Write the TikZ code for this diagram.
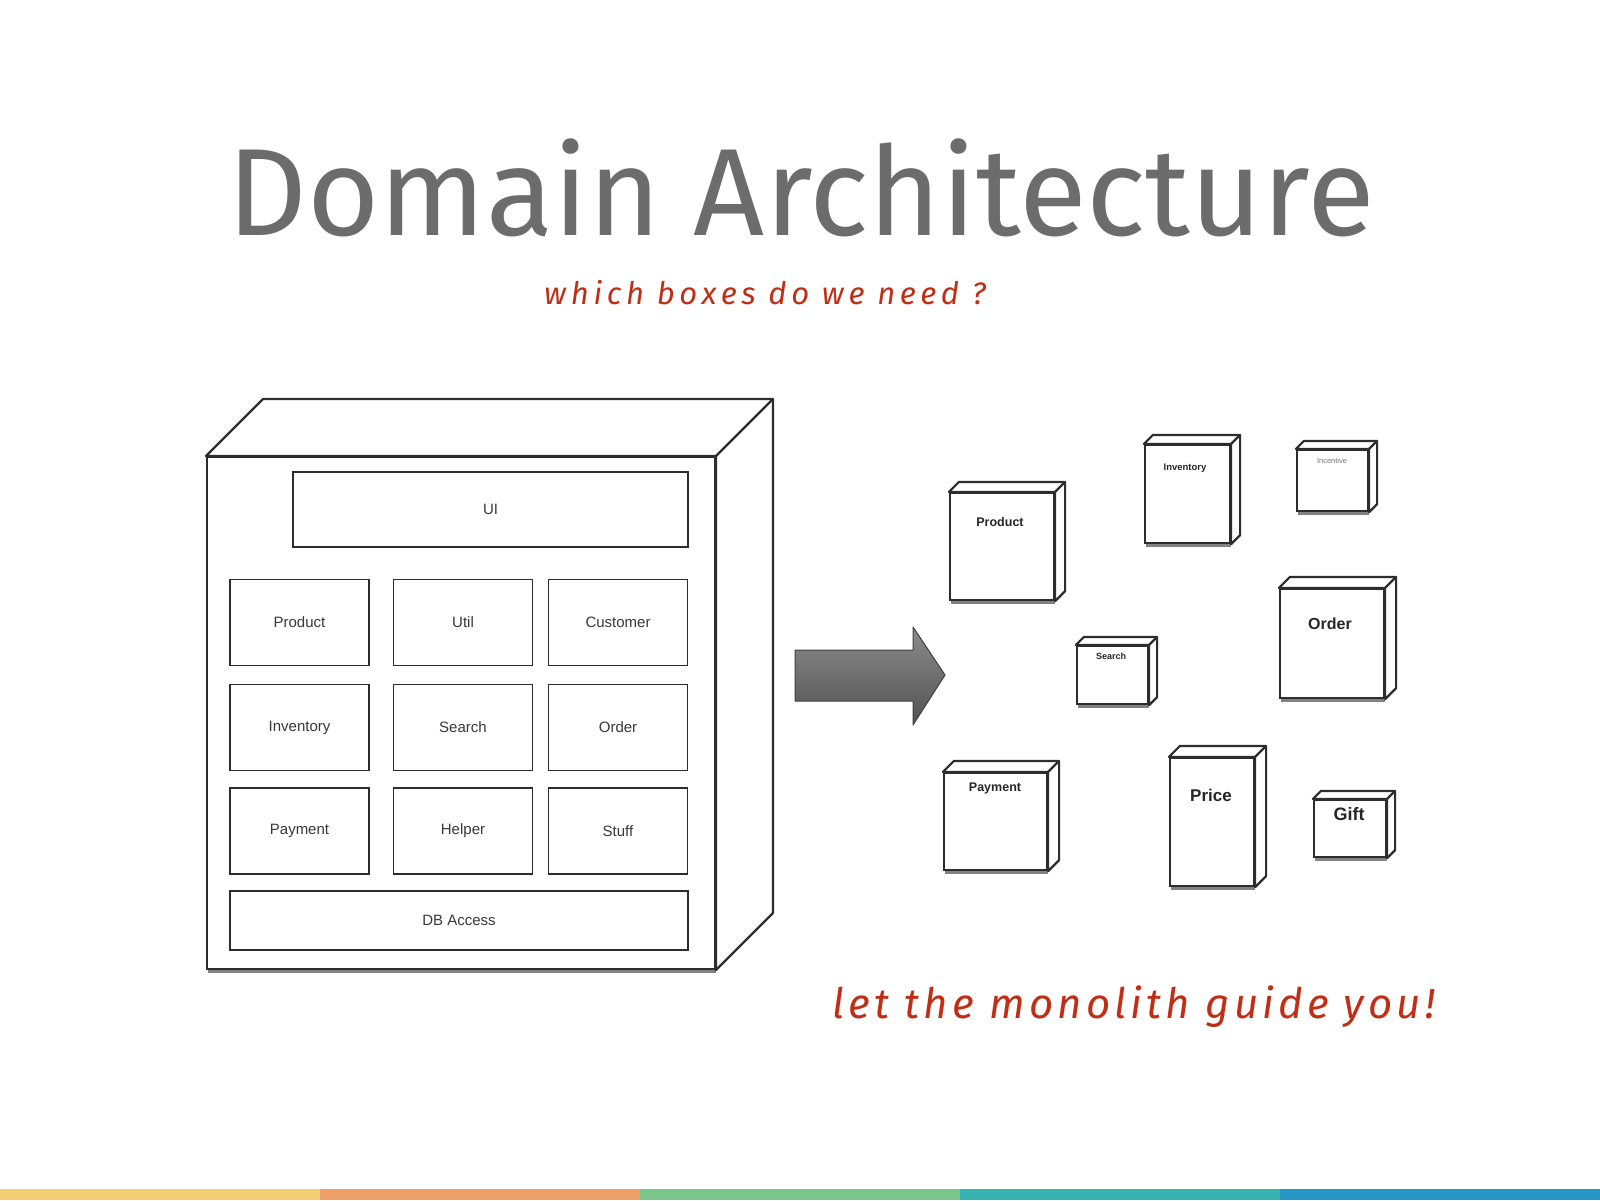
\documentclass[tikz,border=0pt]{standalone}
\usepackage{fontspec}
\setmainfont{Liberation Sans}
\newfontfamily\titlefont{Fira Sans}
\newfontfamily\notefont[LetterSpace=15]{Fira Sans}
\newfontfamily\hintfont[LetterSpace=10]{Fira Sans}
\usetikzlibrary{shadows}

\definecolor{titlegray}{RGB}{108,108,108}
\definecolor{notered}{RGB}{192,46,22}
\definecolor{boxline}{RGB}{45,45,45}
\definecolor{barA}{RGB}{245,206,116}
\definecolor{barB}{RGB}{239,160,102}
\definecolor{barC}{RGB}{123,198,141}
\definecolor{barD}{RGB}{54,181,176}
\definecolor{barE}{RGB}{38,151,198}

\tikzset{
  modbox/.style={draw=boxline, line width=1.7pt, fill=white, minimum width=139pt,
    minimum height=86pt, font=\fontsize{15}{15}\selectfont, text=black!78},
  svcbox/.style={draw=boxline, line width=2.2pt, fill=white,
    drop shadow={shadow xshift=1pt, shadow yshift=-4pt, opacity=0.65, fill=black!75}},
  svclabel/.style={font=\bfseries, text=black!85, inner sep=0pt},
  facefill/.style={draw=boxline, line width=2.2pt, fill=white, line join=round},
}

% top and right faces of a box node #1, depth #2
\newcommand{\cubefaces}[2]{%
  \draw[facefill] (#1.north west) -- ++(#2,-#2) -- ([shift={(#2,-#2)}]#1.north east)
    -- ([shift={(#2,-#2)}]#1.south east) -- (#1.south east) -- (#1.north east) -- cycle;
  \draw[facefill] (#1.north east) -- ++(#2,-#2);
}

\begin{document}
\begin{tikzpicture}[x=1pt, y=-1pt]
    % page
    \useasboundingbox (0,0) rectangle (1600,1200);
    \fill[white] (0,0) rectangle (1600,1200);

    % title and notes
    \node[anchor=base, text=titlegray, font=\titlefont\fontsize{124}{124}\selectfont] (title) at (801,235) {Domain Architecture};
    \node[anchor=base, text=notered, font=\notefont\itshape\fontsize{31}{31}\selectfont] (question) at (765,304) {which boxes do we need ?};
    \node[anchor=base, text=notered, font=\hintfont\itshape\fontsize{42}{42}\selectfont] (hint) at (1134,1018) {let the monolith guide you!};

    % the monolith
    \node[draw=boxline, line width=2pt, fill=white, minimum width=508pt, minimum height=512pt,
          drop shadow={shadow xshift=1pt, shadow yshift=-4pt, opacity=0.65, fill=black!75}] (mono) at (461,713) {};
    \cubefaces{mono}{57}

    % modules inside the monolith
    \node[modbox, minimum width=395pt, minimum height=75pt] (ui) at (490.5,509.5) {UI};
    \node[modbox] (product) at (299.5,622.5) {Product};
    \node[modbox] (util) at (463,622.5) {Util};
    \node[modbox] (customer) at (618,622.5) {Customer};
    \node[modbox] (inventory) at (299.5,727.5) {Inventory};
    \node[modbox] (search) at (463,727.5) {Search};
    \node[modbox] (order) at (618,727.5) {Order};
    \node[modbox] (payment) at (299.5,831) {Payment};
    \node[modbox] (helper) at (463,831) {Helper};
    \node[modbox] (stuff) at (618,831) {Stuff};
    \node[modbox, minimum width=458pt, minimum height=59pt] (db) at (459,920.5) {DB Access};

    % big arrow
    \shade[top color=black!45, middle color=black!38, bottom color=black!68, draw=black!75, line width=1pt, line join=round]
        (795,650) -- (913,650) -- (913,627) -- (945,675) -- (913,725) -- (913,701) -- (795,701) -- cycle;

    % the separate services
    \node[svcbox, minimum width=104pt, minimum height=107pt] (sproduct) at (1002,546.5) {};
    \cubefaces{sproduct}{10}
    \node[svclabel, font=\bfseries\fontsize{12.5}{12.5}\selectfont] (lproduct) at (1000,522) {Product};

    \node[svcbox, minimum width=85pt, minimum height=98pt] (sinventory) at (1187.5,494) {};
    \cubefaces{sinventory}{9}
    \node[svclabel, font=\bfseries\fontsize{9.5}{9.5}\selectfont] (linventory) at (1185,468) {Inventory};

    \node[svcbox, minimum width=71pt, minimum height=61pt] (sincentive) at (1332.5,480.5) {};
    \cubefaces{sincentive}{8}
    \node[svclabel, font=\fontsize{7.5}{7.5}\selectfont, text=black!55] (lincentive) at (1332,461) {Incentive};

    \node[svcbox, minimum width=104pt, minimum height=109pt] (sorder) at (1332,643.5) {};
    \cubefaces{sorder}{11}
    \node[svclabel, font=\bfseries\fontsize{16}{16}\selectfont] (lorder) at (1330,624) {Order};

    \node[svcbox, minimum width=71pt, minimum height=58pt] (ssearch) at (1112.5,675) {};
    \cubefaces{ssearch}{8}
    \node[svclabel, font=\bfseries\fontsize{9}{9}\selectfont] (lsearch) at (1111,656) {Search};

    \node[svcbox, minimum width=103pt, minimum height=97pt] (spayment) at (995.5,821.5) {};
    \cubefaces{spayment}{11}
    \node[svclabel, font=\bfseries\fontsize{12.5}{12.5}\selectfont] (lpayment) at (995,788) {Payment};

    \node[svcbox, minimum width=84pt, minimum height=128pt] (sprice) at (1212,822) {};
    \cubefaces{sprice}{11}
    \node[svclabel, font=\bfseries\fontsize{17}{17}\selectfont] (lprice) at (1211,795) {Price};

    \node[svcbox, minimum width=72pt, minimum height=57pt] (sgift) at (1350,828.5) {};
    \cubefaces{sgift}{8}
    \node[svclabel, font=\bfseries\fontsize{18}{18}\selectfont] (lgift) at (1349,814) {Gift};

    % colour bar
    \fill[barA] (0,1189) rectangle (320,1200);
    \fill[barB] (320,1189) rectangle (640,1200);
    \fill[barC] (640,1189) rectangle (960,1200);
    \fill[barD] (960,1189) rectangle (1280,1200);
    \fill[barE] (1280,1189) rectangle (1600,1200);
\end{tikzpicture}
\end{document}
